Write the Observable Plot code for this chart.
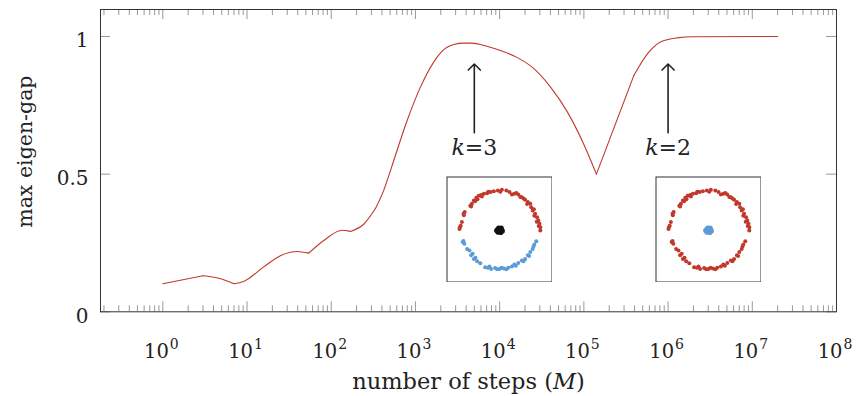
<!DOCTYPE html>
<html><head><meta charset="utf-8">
<script src="https://cdn.jsdelivr.net/npm/d3@7"></script>
<script src="https://cdn.jsdelivr.net/npm/@observablehq/plot@0.6"></script>
<style>
body{margin:0;background:#fff}
#chart{position:relative;width:857px;height:396px}
.inset{position:absolute}
</style>
</head><body><div id="chart"></div>
<script>
// ---- data ----
const steps = [1, 3, 4.6, 7, 9.1, 15.8, 24.9, 32.8, 39.3, 54, 81.5, 134.6, 169, 243, 335, 420, 505, 797, 1146, 1648, 1810, 2075, 2377, 2850, 3750, 4500, 5916, 7780, 10000, 15850, 25120, 39810, 63100, 100000, 141000, 391700, 590000, 812000, 1280000, 2000000, 20000000];
const gap = [0.102, 0.131, 0.122, 0.102, 0.11, 0.163, 0.204, 0.216, 0.219, 0.213, 0.259, 0.296, 0.292, 0.318, 0.375, 0.441, 0.513, 0.695, 0.816, 0.907, 0.925, 0.947, 0.961, 0.971, 0.976, 0.976, 0.971, 0.961, 0.950, 0.925, 0.885, 0.818, 0.728, 0.608, 0.50, 0.858, 0.943, 0.98, 0.995, 0.999, 1.0];
// indices of the sharp corners of the curve
const kinks = [1, 3, 9, 12, 14, 34, 35];
const xExponents = [0, 1, 2, 3, 4, 5, 6, 7, 8];
const yTicks = [0, 0.5, 1];
const yTickLabels = ["0", "0.5", "1"];
const arrowSteps = [5000, 1e6];
const arrowLabels = ["k=3", "k=2"];
const arrowFrom = 0.65, arrowTo = 0.9;
const insetSteps = [1e4, 3e6];
const insetGap = 0.3;
// scatter points of the insets (ring of radius ~1)
const ringTop = [[-1.00,0.04],[-0.97,0.12],[-0.99,0.08],[-0.94,0.21],[-0.90,0.42],[-0.87,0.46],[-0.89,0.38],[-0.73,0.62],[-0.69,0.67],[-0.71,0.60],[-0.64,0.75],[-0.61,0.73],[-0.58,0.82],[-0.55,0.78],[-0.52,0.87],[-0.46,0.89],[-0.44,0.85],[-0.39,0.92],[-0.31,0.93],[-0.28,0.97],[-0.22,0.96],[-0.14,0.98],[-0.04,1.00],[0.06,1.02],[0.02,0.97],[0.17,1.00],[0.25,0.96],[0.31,0.90],[0.37,0.92],[0.42,0.94],[0.47,0.90],[0.52,0.84],[0.56,0.83],[0.60,0.80],[0.64,0.77],[0.71,0.71],[0.69,0.66],[0.77,0.67],[0.79,0.58],[0.83,0.50],[0.86,0.53],[0.89,0.42],[0.87,0.37],[0.94,0.33],[0.97,0.25],[0.93,0.22],[1.00,0.17],[1.02,0.08],[0.98,0.11],[1.02,0.00]];
const ringBottom = [[-0.92,-0.29],[-0.88,-0.33],[-0.90,-0.26],[-0.81,-0.46],[-0.75,-0.50],[-0.71,-0.62],[-0.67,-0.58],[-0.64,-0.71],[-0.60,-0.68],[-0.56,-0.77],[-0.48,-0.82],[-0.36,-0.92],[-0.29,-0.93],[-0.25,-0.90],[-0.21,-0.96],[-0.11,-0.94],[-0.06,-0.97],[0.00,-0.96],[0.05,-0.93],[0.11,-0.95],[0.17,-0.97],[0.22,-0.93],[0.31,-0.90],[0.37,-0.85],[0.41,-0.88],[0.47,-0.81],[0.56,-0.75],[0.60,-0.77],[0.64,-0.71],[0.71,-0.62],[0.74,-0.64],[0.77,-0.54],[0.83,-0.46],[0.85,-0.40],[0.87,-0.35],[0.92,-0.27]];
const core = [[0,0],[0.05,0.03],[-0.05,0.02],[0.03,-0.05],[-0.04,-0.04],[0.07,-0.01],[-0.02,0.06],[0.01,0.01],[-0.07,0.0],[0.04,0.06]];
const RED = "#c0392b", BLUE = "#5b9bd8", BLACK = "#111";
const insetColors = [[RED, BLUE, BLACK], [RED, RED, BLUE]]; // top, bottom, core

// ---- layout ----
const W = 857, H = 396, mL = 100, mR = 21, mT = 9, mB = 84.7;
const iW = W - mL - mR, iH = H - mT - mB;
const xDomain = [10 ** -0.74, 1e8];
const yDomain = [0, 1.098];
const FONT = "'DejaVu Serif', serif";
const majors = xExponents.map(e => 10 ** e);
const minors = d3.scaleLog().domain(xDomain).ticks(20).filter(v => !majors.some(m => Math.abs(m - v) / m < 1e-9));

const bounds = [0, ...kinks, steps.length - 1];
const curve = [];
for (let p = 0; p < bounds.length - 1; p++) {
  for (let i = bounds[p]; i <= bounds[p + 1]; i++) curve.push({s: steps[i], g: gap[i], seg: p});
}

const chart = Plot.plot({
  width: W, height: H, marginLeft: mL, marginRight: mR, marginTop: mT, marginBottom: mB,
  style: "background:white;color:#222",
  x: {type: "log", domain: xDomain, axis: null},
  y: {domain: yDomain, axis: null},
  marks: [
    Plot.tickX(majors, {x: d => d, insetTop: iH - 10, stroke: "#999"}),
    Plot.tickX(majors, {x: d => d, insetBottom: iH - 10, stroke: "#999"}),
    Plot.tickX(minors, {x: d => d, insetTop: iH - 6, stroke: "#999"}),
    Plot.tickX(minors, {x: d => d, insetBottom: iH - 6, stroke: "#999"}),
    Plot.tickY(yTicks, {y: d => d, insetRight: iW - 10, stroke: "#999"}),
    Plot.tickY(yTicks, {y: d => d, insetLeft: iW - 10, stroke: "#999"}),
    Plot.frame({stroke: "#333", strokeWidth: 1}),
    Plot.text(xExponents, {x: d => 10 ** d, y: 0, text: () => "10", textAnchor: "end", lineAnchor: "bottom", dx: 6, dy: 45.7, fontSize: 19.5, fill: "#222"}),
    Plot.text(xExponents, {x: d => 10 ** d, y: 0, text: d => String(d), textAnchor: "start", lineAnchor: "bottom", dx: 7, dy: 37, fontSize: 14, fill: "#222"}),
    Plot.text(yTicks, {y: d => d, frameAnchor: "left", text: (d, i) => yTickLabels[i], textAnchor: "end", lineAnchor: "bottom", dx: -12, dy: 11, fontSize: 20, fill: "#222"}),
    Plot.text(["number of steps (M)"], {frameAnchor: "bottom", textAnchor: "middle", lineAnchor: "bottom", dy: 76.7, fontSize: 22.5, fill: "#222"}),
    Plot.text(["max eigen-gap"], {frameAnchor: "left", textAnchor: "middle", lineAnchor: "bottom", rotate: -90, dx: -69, dy: -9, fontSize: 20.5, fill: "#222"}),
    Plot.line(curve, {x: "s", y: "g", z: "seg", curve: "monotone-x", stroke: RED, strokeWidth: 1.1}),
    Plot.arrow(arrowSteps, {x1: d => d, x2: d => d, y1: arrowFrom, y2: arrowTo, stroke: "#222", strokeWidth: 1.6, headAngle: 90, headLength: 8}),
    Plot.text(arrowSteps, {x: d => d, y: arrowFrom, text: (d, i) => arrowLabels[i], lineAnchor: "bottom", dy: 22, fontSize: 22, fill: "#222"})
  ]
});

chart.querySelectorAll("text").forEach(t => {
  t.style.fontFamily = FONT;
  const s = t.textContent;
  const ns = "http://www.w3.org/2000/svg";
  const mk = (txt, italic) => { const sp = document.createElementNS(ns, "tspan"); sp.textContent = txt; if (italic) sp.setAttribute("font-style", "italic"); return sp; };
  if (/^k=\d$/.test(s)) {
    t.textContent = "";
    t.appendChild(mk("k", true)); t.appendChild(mk(s.slice(1), false));
  } else if (s === "number of steps (M)") {
    t.textContent = "";
    t.appendChild(mk("number of steps (", false)); t.appendChild(mk("M", true)); t.appendChild(mk(")", false));
  }
});

const root = document.getElementById("chart");
root.appendChild(chart);

const xs = chart.scale("x"), ys = chart.scale("y");
const S = 106, R = 40;
insetSteps.forEach((st, k) => {
  const [cTop, cBot, cCore] = insetColors[k];
  const inset = Plot.plot({
    width: S, height: S, margin: 0.5,
    style: {background: "white"},
    x: {domain: [-(S / 2 - 0.5) / R, (S / 2 - 0.5) / R], axis: null},
    y: {domain: [-(S / 2 - 1.5) / R, (S / 2 + 0.5) / R], axis: null},
    marks: [
      Plot.frame({stroke: "#333", strokeWidth: 1}),
      Plot.dot(ringTop, {x: d => d[0], y: d => d[1], r: 2, fill: cTop, stroke: "none"}),
      Plot.dot(ringBottom, {x: d => d[0], y: d => d[1], r: 2, fill: cBot, stroke: "none"}),
      Plot.dot(core, {x: d => d[0], y: d => d[1], r: 2.6, fill: cCore, stroke: "none"})
    ]
  });
  const div = document.createElement("div");
  div.className = "inset";
  div.style.left = (xs.apply(st) - S / 2) + "px";
  div.style.top = (ys.apply(insetGap) - S / 2) + "px";
  div.appendChild(inset);
  root.appendChild(div);
});
</script>
</body></html>
